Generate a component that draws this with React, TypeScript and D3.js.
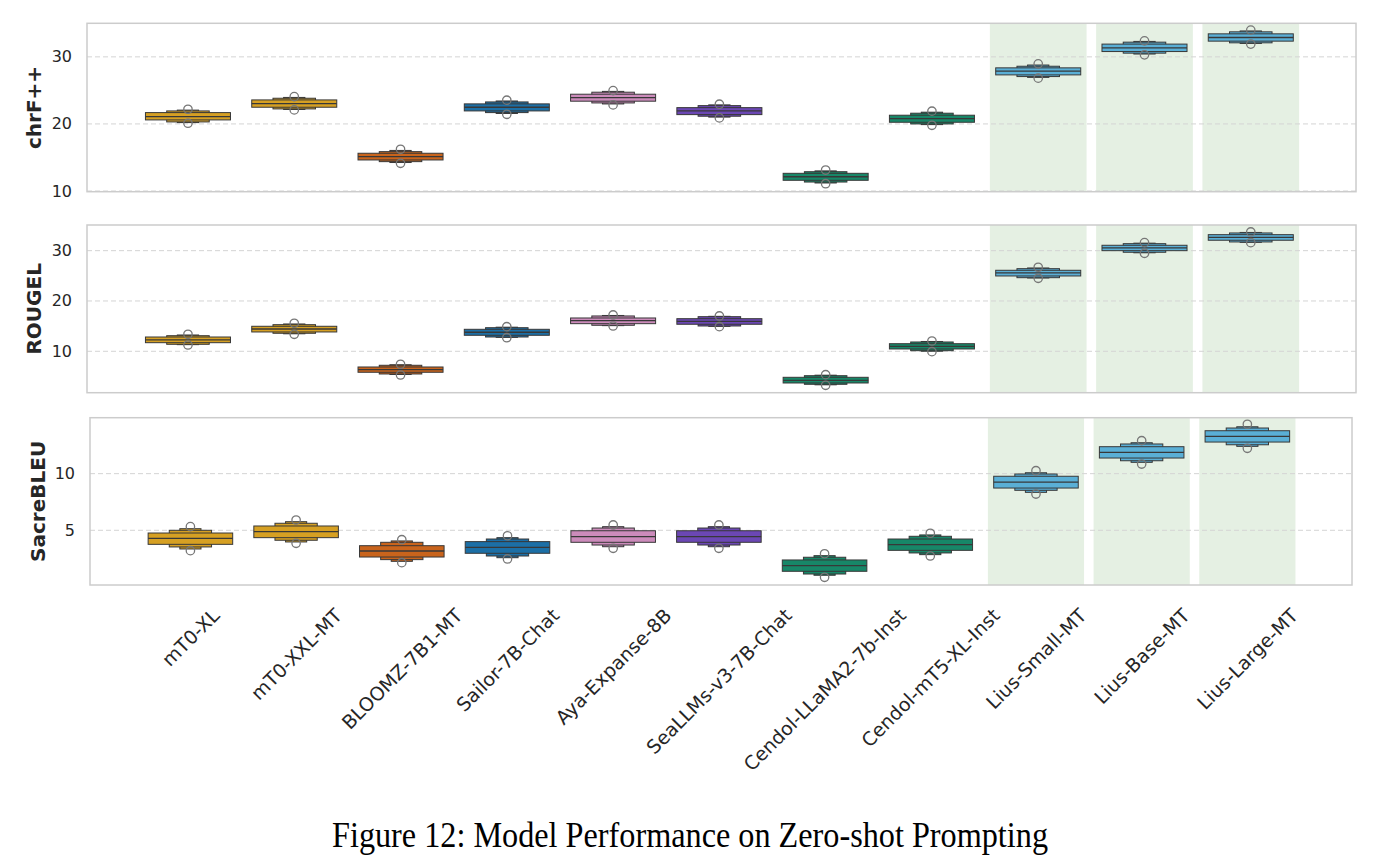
import React, { useEffect, useRef } from "react";
import * as d3 from "d3";

const models = [
  "mT0-XL", "mT0-XXL-MT", "BLOOMZ-7B1-MT", "Sailor-7B-Chat", "Aya-Expanse-8B",
  "SeaLLMs-v3-7B-Chat", "Cendol-LLaMA2-7b-Inst", "Cendol-mT5-XL-Inst",
  "Lius-Small-MT", "Lius-Base-MT", "Lius-Large-MT",
];
const modelColors = [
  "#d6a023", "#d6a023", "#c9641c", "#1c6fa6", "#cc8bbb", "#6b47b4",
  "#178768", "#178768", "#5aafd6", "#5aafd6", "#5aafd6",
];
const highlighted = ["Lius-Small-MT", "Lius-Base-MT", "Lius-Large-MT"];

// each row: [outlierLow, lv3Low, lv2Low, q1, median, q3, lv2High, lv3High, outlierHigh]
const chrfStats = [
  [20.1, 20.2, 20.3, 20.6, 21.09, 21.69, 21.94, 22.06, 22.19],
  [22.09, 22.16, 22.24, 22.49, 23.03, 23.58, 23.83, 23.95, 24.07],
  [14.13, 14.25, 14.38, 14.63, 15.12, 15.63, 15.87, 16.05, 16.22],
  [21.44, 21.56, 21.69, 21.94, 22.49, 22.99, 23.28, 23.42, 23.54],
  [22.84, 22.98, 23.13, 23.39, 23.93, 24.43, 24.73, 24.85, 24.97],
  [20.9, 21.02, 21.15, 21.39, 21.94, 22.43, 22.73, 22.84, 22.94],
  [11.09, 11.2, 11.34, 11.6, 12.13, 12.64, 12.88, 13.0, 13.13],
  [19.8, 19.9, 20.0, 20.25, 20.79, 21.3, 21.6, 21.75, 21.9],
  [26.82, 26.94, 27.06, 27.31, 27.87, 28.36, 28.6, 28.78, 28.96],
  [30.3, 30.42, 30.55, 30.79, 31.34, 31.9, 32.19, 32.3, 32.39],
  [31.9, 32.0, 32.09, 32.34, 32.88, 33.43, 33.73, 33.86, 33.98],
];
const rougeStats = [
  [11.25, 11.32, 11.39, 11.71, 12.25, 12.84, 13.1, 13.24, 13.38],
  [13.38, 13.48, 13.58, 13.84, 14.43, 14.97, 15.29, 15.43, 15.57],
  [5.29, 5.39, 5.49, 5.83, 6.35, 6.88, 7.22, 7.32, 7.42],
  [12.7, 12.77, 12.84, 13.18, 13.78, 14.37, 14.69, 14.79, 14.89],
  [15.03, 15.1, 15.17, 15.49, 16.08, 16.62, 17.02, 17.12, 17.22],
  [14.89, 14.96, 15.03, 15.37, 15.96, 16.48, 16.88, 16.95, 17.02],
  [3.24, 3.34, 3.44, 3.7, 4.23, 4.83, 5.15, 5.25, 5.35],
  [9.92, 10.02, 10.12, 10.46, 10.99, 11.51, 11.85, 11.95, 12.05],
  [24.51, 24.57, 24.63, 24.97, 25.57, 26.1, 26.42, 26.56, 26.7],
  [29.48, 29.58, 29.68, 30.0, 30.54, 31.07, 31.39, 31.49, 31.59],
  [31.59, 31.66, 31.73, 32.07, 32.66, 33.18, 33.52, 33.62, 33.72],
];
const bleuStats = [
  [3.2, 3.35, 3.53, 3.76, 4.29, 4.76, 5.0, 5.14, 5.32],
  [3.85, 3.97, 4.12, 4.35, 4.88, 5.38, 5.62, 5.76, 5.91],
  [2.14, 2.26, 2.41, 2.64, 3.17, 3.64, 3.94, 4.06, 4.17],
  [2.47, 2.58, 2.73, 2.97, 3.5, 4.0, 4.23, 4.35, 4.52],
  [3.41, 3.55, 3.7, 3.94, 4.44, 4.96, 5.2, 5.32, 5.47],
  [3.41, 3.55, 3.7, 3.94, 4.44, 4.96, 5.2, 5.32, 5.47],
  [0.85, 1.03, 1.14, 1.38, 1.88, 2.38, 2.62, 2.76, 2.93],
  [2.73, 2.85, 3.0, 3.23, 3.73, 4.23, 4.47, 4.59, 4.74],
  [8.2, 8.35, 8.53, 8.73, 9.26, 9.77, 9.97, 10.08, 10.26],
  [10.85, 11.0, 11.14, 11.38, 11.88, 12.38, 12.62, 12.73, 12.91],
  [12.24, 12.41, 12.55, 12.79, 13.3, 13.79, 14.03, 14.14, 14.36],
];
const chrfTicks = [10, 20, 30];
const rougeTicks = [10, 20, 30];
const bleuTicks = [5, 10];
const chrfDomain = [9.9, 35.0];
const rougeDomain = [1.77, 35.1];
const bleuDomain = [0.17, 14.94];
const titleText = "Figure 12: Model Performance on Zero-shot Prompting";

const panels = [
  { name: "chrF++", stats: chrfStats, ticks: chrfTicks, domain: chrfDomain, x0: 87, x1: 1356, y0: 23.3, y1: 191.7, labelX: 34 },
  { name: "ROUGEL", stats: rougeStats, ticks: rougeTicks, domain: rougeDomain, x0: 87, x1: 1356, y0: 225, y1: 392.7, labelX: 34 },
  { name: "SacreBLEU", stats: bleuStats, ticks: bleuTicks, domain: bleuDomain, x0: 90, x1: 1352, y0: 417.7, y1: 585, labelX: 38 },
];

const TEXT = "#262626";
const FONT = "DejaVu Sans, sans-serif";

export default function App() {
  const ref = useRef<SVGSVGElement | null>(null);
  useEffect(() => {
    const svg = d3.select(ref.current);
    svg.selectAll("*").remove();
    const levels = [
      { lo: 1, hi: 7, w: 0.2 },
      { lo: 2, hi: 6, w: 0.4 },
      { lo: 3, hi: 5, w: 0.8 },
    ];
    panels.forEach((p, pi) => {
      const x = d3.scaleLinear().domain([-0.95, models.length - 0.01]).range([p.x0, p.x1]);
      const y = d3.scaleLinear().domain(p.domain).range([p.y1, p.y0]);
      const unit = x(1) - x(0);
      const g = svg.append("g");
      // highlight backgrounds
      models.forEach((m, i) => {
        if (!highlighted.includes(m)) return;
        g.append("rect")
          .attr("x", x(i) - 0.455 * unit).attr("width", 0.91 * unit)
          .attr("y", p.y0).attr("height", p.y1 - p.y0)
          .attr("fill", "#e5f0e3");
      });
      // grid
      p.ticks.forEach((t) => {
        g.append("line")
          .attr("x1", p.x0).attr("x2", p.x1)
          .attr("y1", y(t)).attr("y2", y(t))
          .attr("stroke", "#d4d4d4").attr("stroke-width", 1)
          .attr("stroke-dasharray", "5,3");
        g.append("text")
          .attr("x", p.x0 - 15).attr("y", y(t))
          .attr("text-anchor", "end").attr("dominant-baseline", "central")
          .attr("font-family", FONT).attr("font-size", 16).attr("fill", TEXT)
          .text(String(t));
      });
      // boxes
      p.stats.forEach((s, i) => {
        const cx = x(i);
        levels.forEach((lv) => {
          g.append("rect")
            .attr("x", cx - (lv.w / 2) * unit).attr("width", lv.w * unit)
            .attr("y", y(s[lv.hi])).attr("height", y(s[lv.lo]) - y(s[lv.hi]))
            .attr("fill", modelColors[i])
            .attr("stroke", "#383838").attr("stroke-width", 1);
        });
        g.append("line")
          .attr("x1", cx - 0.4 * unit).attr("x2", cx + 0.4 * unit)
          .attr("y1", y(s[4])).attr("y2", y(s[4]))
          .attr("stroke", "#383838").attr("stroke-width", 1.3);
        [s[0], s[8]].forEach((v) => {
          g.append("circle")
            .attr("cx", cx).attr("cy", y(v)).attr("r", 4.2)
            .attr("fill", "none").attr("stroke", "#777777").attr("stroke-width", 1.3);
        });
      });
      // frame
      g.append("rect")
        .attr("x", p.x0).attr("y", p.y0)
        .attr("width", p.x1 - p.x0).attr("height", p.y1 - p.y0)
        .attr("fill", "none").attr("stroke", "#cccccc").attr("stroke-width", 1.5);
      // y label
      const cy = (p.y0 + p.y1) / 2;
      g.append("text")
        .attr("transform", `translate(${p.labelX},${cy}) rotate(-90)`)
        .attr("text-anchor", "middle").attr("dominant-baseline", "central")
        .attr("font-family", FONT).attr("font-weight", "bold").attr("font-size", 20)
        .attr("fill", TEXT).text(p.name);
      // x labels on bottom panel
      if (pi === panels.length - 1) {
        const fs = 19;
        const h = fs * 1.17;
        models.forEach((m, i) => {
          const t = g.append("text")
            .attr("text-anchor", "middle").attr("dominant-baseline", "central")
            .attr("font-family", FONT).attr("font-size", fs).attr("fill", TEXT)
            .text(m);
          const L = (t.node() as SVGTextElement).getComputedTextLength();
          const side = (L + h) / Math.SQRT2;
          const top = p.y1 + 19;
          t.attr("transform", `translate(${x(i)},${top + side / 2}) rotate(-45)`);
        });
      }
    });
    svg.append("text")
      .attr("x", 690).attr("y", 847)
      .attr("text-anchor", "middle")
      .attr("font-family", "Liberation Serif, Times New Roman, serif")
      .attr("font-size", 36)
      .attr("textLength", 716).attr("lengthAdjust", "spacingAndGlyphs")
      .attr("fill", "#000").text(titleText);
  }, []);
  return (
    <svg ref={ref} width={1379} height={866}
      style={{ position: "absolute", left: 0, top: 0, background: "#fff" }} />
  );
}
